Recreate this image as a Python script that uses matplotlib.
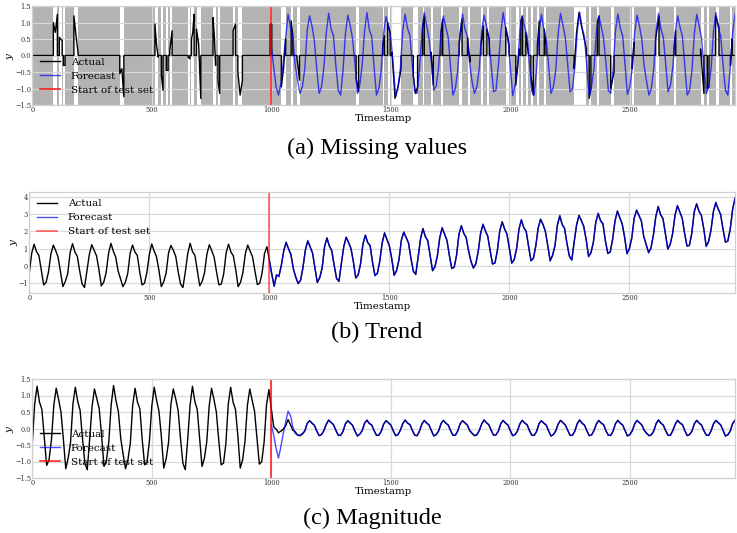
import numpy as np
import matplotlib
matplotlib.use("Agg")
import matplotlib.pyplot as plt

# ---------------------------------------------------------------- data
# samples every 10 timestamps
t_actual = np.arange(0, 2950, 10)
t_forecast = np.arange(1000, 2950, 10)
test_start = 1000

# (b) Trend
actual_b = [
    -0.42, 0.73, 1.25, 0.82, 0.6, -0.25, -1.1, -0.95,
    -0.35, 0.68, 1.2, 0.88, 0.5, -0.35, -1.2, -0.9,
    -0.45, 0.75, 1.28, 0.8, 0.55, -0.3, -1.05, -1.25,
    -0.3, 0.65, 1.22, 0.9, 0.58, -0.2, -1.15, -0.95,
    -0.4, 0.7, 1.3, 0.85, 0.5, -0.3, -0.75, -1.2, -0.95,
    -0.45, 0.72, 1.2, 0.8, 0.6, -0.35, -1.1, -1.0,
    -0.38, 0.66, 1.26, 0.86, 0.52, -0.25, -1.2, -0.92,
    -0.42, 0.74, 1.18, 0.9, 0.55, -0.32, -1.05, -1.25,
    -0.35, 0.7, 1.3, 0.82, 0.6, -0.28, -1.15, -0.9,
    -0.4, 0.68, 1.22, 0.88, 0.5, -0.35, -1.1, -1.05,
    -0.45, 0.75, 1.25, 0.8, 0.58, -0.22, -1.2, -0.95,
    -0.38, 0.7, 1.2, 0.85, 0.52, -0.3, -1.08, -1.0,
    -0.4, 0.72, 1.1, 0.35, -0.45, -1.15, -0.55, -0.6,
    0.05, 0.85, 1.37, 0.97, 0.67, -0.18, -0.63, -1.03, -0.83,
    -0.12, 0.91, 1.43, 1.11, 0.73, -0.12, -0.97, -0.67,
    -0.11, 1.09, 1.62, 1.14, 0.89, 0.04, -0.71, -0.91,
    0.14, 1.09, 1.66, 1.34, 1.02, 0.24, -0.71, -0.51,
    0.1, 1.27, 1.75, 1.35, 1.15, 0.2, -0.55, -0.45,
    0.27, 1.31, 1.91, 1.51, 1.17, 0.4, -0.55, -0.27,
    0.33, 1.49, 1.93, 1.65, 1.3, 0.43, -0.3, -0.5,
    0.51, 1.56, 2.16, 1.68, 1.46, 0.58, -0.29, -0.04,
    0.56, 1.64, 2.18, 1.84, 1.46, 0.61, -0.14, -0.09,
    0.62, 1.82, 2.32, 1.87, 1.65, 0.85, 0.27, -0.13, 0.12,
    0.8, 1.88, 2.38, 2.03, 1.7, 0.88, 0.1, 0.18,
    0.89, 2.01, 2.55, 2.13, 1.84, 0.99, 0.17, 0.34,
    0.97, 2.12, 2.64, 2.21, 1.99, 1.14, 0.29, 0.44,
    1.15, 2.18, 2.7, 2.38, 2.0, 1.15, 0.3, 0.6,
    1.15, 2.35, 2.88, 2.4, 2.15, 1.3, 0.55, 0.35,
    1.4, 2.35, 2.92, 2.6, 2.28, 1.5, 0.55, 0.75,
    1.36, 2.53, 3.01, 2.61, 2.41, 1.46, 0.71, 0.81,
    1.53, 2.57, 3.17, 2.77, 2.43, 1.66, 0.71, 0.99,
    1.6, 2.76, 3.2, 2.92, 2.57, 1.7, 1.22, 0.77, 1.02,
    1.78, 2.83, 3.43, 2.95, 2.73, 1.85, 0.98, 1.23,
    1.84, 2.92, 3.46, 3.12, 2.74, 1.89, 1.14, 1.19,
    1.89, 3.09, 3.59, 3.14, 2.92, 2.12, 1.14, 1.39,
    2.06, 3.14, 3.64, 3.29, 2.96, 2.14, 1.36, 1.44,
    2.12, 3.24, 3.92,
]
forecast_b = [
    0.3, -0.5, -1.2, -0.5, -0.62,
    0.0, 0.9, 1.33, 1.0, 0.62, -0.15, -0.68, -1.0, -0.86,
    -0.08, 0.88, 1.47, 1.08, 0.76, -0.15, -0.93, -0.7,
    -0.14, 1.12, 1.58, 1.17, 0.86, 0.07, -0.75, -0.88,
    0.1, 1.12, 1.62, 1.37, 0.98, 0.27, -0.68, -0.55,
    0.13, 1.24, 1.79, 1.32, 1.18, 0.17, -0.58, -0.42,
    0.24, 1.34, 1.87, 1.54, 1.14, 0.43, -0.52, -0.3,
    0.36, 1.46, 1.97, 1.62, 1.33, 0.4, -0.33, -0.47,
    0.48, 1.59, 2.12, 1.71, 1.43, 0.61, -0.26, -0.07,
    0.59, 1.61, 2.22, 1.81, 1.49, 0.58, -0.17, -0.06,
    0.59, 1.85, 2.28, 1.9, 1.62, 0.88, 0.24, -0.1, 0.09,
    0.83, 1.85, 2.42, 2.0, 1.73, 0.85, 0.13, 0.15,
    0.86, 2.04, 2.51, 2.16, 1.81, 1.02, 0.14, 0.37,
    1.0, 2.09, 2.68, 2.18, 2.02, 1.11, 0.32, 0.41,
    1.12, 2.21, 2.66, 2.41, 1.97, 1.18, 0.27, 0.63,
    1.18, 2.32, 2.92, 2.37, 2.18, 1.27, 0.58, 0.32,
    1.37, 2.38, 2.88, 2.63, 2.25, 1.53, 0.52, 0.78,
    1.39, 2.5, 3.05, 2.58, 2.44, 1.43, 0.74, 0.78,
    1.5, 2.6, 3.13, 2.8, 2.4, 1.69, 0.68, 1.02,
    1.63, 2.73, 3.24, 2.89, 2.6, 1.67, 1.25, 0.74, 1.05,
    1.75, 2.86, 3.39, 2.98, 2.7, 1.88, 0.95, 1.26,
    1.87, 2.89, 3.5, 3.09, 2.77, 1.86, 1.17, 1.16,
    1.86, 3.12, 3.55, 3.17, 2.89, 2.15, 1.11, 1.42,
    2.09, 3.11, 3.68, 3.26, 2.99, 2.11, 1.39, 1.41,
    2.09, 3.27, 3.88,
]

# (c) Magnitude
actual_c = [
    -0.45, 0.75, 1.28, 0.8, 0.58, -0.25, -1.12, -0.95,
    -0.35, 0.7, 1.22, 0.88, 0.5, -0.32, -1.22, -0.9,
    -0.42, 0.74, 1.25, 0.82, 0.55, -0.3, -1.05, -1.25,
    -0.32, 0.66, 1.2, 0.9, 0.6, -0.22, -1.15, -0.98,
    -0.4, 0.72, 1.3, 0.85, 0.52, -0.3, -0.78, -1.22, -0.95,
    -0.45, 0.7, 1.22, 0.8, 0.6, -0.35, -1.1, -1.02,
    -0.38, 0.68, 1.25, 0.86, 0.52, -0.25, -1.2, -0.92,
    -0.42, 0.74, 1.2, 0.9, 0.55, -0.3, -1.05, -1.25,
    -0.35, 0.7, 1.28, 0.82, 0.58, -0.28, -1.15, -0.9,
    -0.4, 0.68, 1.22, 0.88, 0.5, -0.35, -1.1, -1.05,
    -0.45, 0.75, 1.25, 0.8, 0.58, -0.22, -1.2, -0.95,
    -0.38, 0.7, 1.2, 0.85, 0.52, -0.3, -1.08, -1.0,
    -0.4, 0.72, 1.18, 0.6, 0.05, -0.02, -0.13, -0.08,
    -0.02, 0.08, 0.27, 0.12, -0.05, -0.1, -0.2, -0.22, -0.17,
    -0.08, 0.15, 0.24, 0.16, 0.1, -0.07, -0.22, -0.18,
    -0.06, 0.13, 0.26, 0.18, 0.12, -0.05, -0.2, -0.21,
    -0.09, 0.14, 0.23, 0.17, 0.09, -0.08, -0.23, -0.17,
    -0.07, 0.16, 0.25, 0.15, 0.11, -0.06, -0.21, -0.2,
    -0.08, 0.13, 0.24, 0.18, 0.1, -0.07, -0.22, -0.18,
    -0.05, 0.15, 0.26, 0.16, 0.12, -0.05, -0.2, -0.22,
    -0.08, 0.14, 0.24, 0.17, 0.1, -0.07, -0.23, -0.18,
    -0.07, 0.15, 0.25, 0.16, 0.11, -0.06, -0.21, -0.2,
    -0.08, 0.14, 0.24, 0.17, 0.1, -0.06, -0.15, -0.22, -0.19,
    -0.06, 0.13, 0.26, 0.18, 0.11, -0.05, -0.21, -0.19,
    -0.08, 0.15, 0.24, 0.16, 0.1, -0.07, -0.22, -0.18,
    -0.07, 0.14, 0.25, 0.17, 0.12, -0.06, -0.2, -0.21,
    -0.09, 0.15, 0.23, 0.16, 0.1, -0.07, -0.23, -0.18,
    -0.07, 0.13, 0.25, 0.18, 0.11, -0.05, -0.21, -0.2,
    -0.08, 0.15, 0.26, 0.16, 0.1, -0.06, -0.22, -0.19,
    -0.06, 0.14, 0.24, 0.17, 0.12, -0.07, -0.2, -0.21,
    -0.08, 0.15, 0.25, 0.16, 0.1, -0.06, -0.23, -0.18,
    -0.07, 0.14, 0.24, 0.18, 0.11, -0.05, -0.14, -0.22, -0.19,
    -0.08, 0.15, 0.26, 0.16, 0.1, -0.07, -0.21, -0.2,
    -0.06, 0.13, 0.24, 0.17, 0.12, -0.06, -0.22, -0.18,
    -0.08, 0.15, 0.25, 0.16, 0.1, -0.07, -0.2, -0.21,
    -0.07, 0.14, 0.24, 0.18, 0.11, -0.05, -0.23, -0.19,
    -0.08, 0.15, 0.25,
]
forecast_c = [
    0.1, -0.2, -0.6, -0.9, -0.55,
    -0.15, 0.2, 0.52, 0.4, 0.05, -0.15, -0.2, -0.2, -0.15,
    -0.07, 0.16, 0.23, 0.17, 0.09, -0.08, -0.21, -0.19,
    -0.07, 0.12, 0.25, 0.19, 0.11, -0.06, -0.21, -0.2,
    -0.08, 0.15, 0.24, 0.16, 0.1, -0.07, -0.22, -0.18,
    -0.06, 0.15, 0.26, 0.16, 0.1, -0.07, -0.2, -0.21,
    -0.09, 0.14, 0.23, 0.17, 0.11, -0.06, -0.21, -0.19,
    -0.06, 0.14, 0.25, 0.17, 0.11, -0.06, -0.21, -0.21,
    -0.07, 0.13, 0.25, 0.16, 0.11, -0.06, -0.22, -0.19,
    -0.08, 0.14, 0.24, 0.17, 0.1, -0.07, -0.2, -0.21,
    -0.07, 0.15, 0.23, 0.18, 0.11, -0.07, -0.14, -0.21, -0.2,
    -0.07, 0.14, 0.25, 0.17, 0.12, -0.06, -0.2, -0.2,
    -0.07, 0.14, 0.25, 0.17, 0.11, -0.06, -0.21, -0.19,
    -0.08, 0.15, 0.24, 0.16, 0.11, -0.07, -0.21, -0.2,
    -0.08, 0.14, 0.24, 0.17, 0.11, -0.06, -0.22, -0.19,
    -0.08, 0.14, 0.24, 0.17, 0.1, -0.06, -0.2, -0.21,
    -0.07, 0.14, 0.25, 0.17, 0.11, -0.07, -0.21, -0.2,
    -0.07, 0.13, 0.25, 0.16, 0.11, -0.06, -0.21, -0.2,
    -0.07, 0.14, 0.24, 0.17, 0.11, -0.07, -0.22, -0.19,
    -0.08, 0.13, 0.25, 0.17, 0.1, -0.06, -0.15, -0.21, -0.2,
    -0.07, 0.14, 0.25, 0.17, 0.11, -0.06, -0.2, -0.21,
    -0.07, 0.14, 0.25, 0.16, 0.11, -0.07, -0.21, -0.19,
    -0.07, 0.14, 0.24, 0.17, 0.11, -0.06, -0.21, -0.2,
    -0.08, 0.15, 0.25, 0.17, 0.1, -0.06, -0.22, -0.2,
    -0.07, 0.14, 0.24,
]

# (a) Missing values
forecast_a = [
    0.25, -0.35, -0.95, -1.2, -0.85,
    -0.2, 0.55, 1.25, 0.85, 0.55, -0.3, -0.75, -1.15, -0.95,
    -0.4, 0.75, 1.2, 0.9, 0.45, -0.4, -1.15, -0.95,
    -0.35, 0.7, 1.28, 0.8, 0.6, -0.3, -1.05, -1.2,
    -0.45, 0.65, 1.22, 0.92, 0.5, -0.25, -1.15, -0.9,
    -0.3, 0.72, 1.3, 0.78, 0.58, -0.35, -1.2, -1.0,
    -0.42, 0.68, 1.18, 0.88, 0.52, -0.28, -1.25, -0.95,
    -0.38, 0.75, 1.25, 0.82, 0.6, -0.3, -1.1, -1.15,
    -0.4, 0.66, 1.3, 0.9, 0.5, -0.22, -1.05, -0.92,
    -0.35, 0.72, 1.2, 0.85, 0.55, -0.35, -1.2, -1.0,
    -0.45, 0.7, 1.26, 0.8, 0.58, -0.25, -0.8, -1.15, -0.95,
    -0.4, 0.74, 1.22, 0.9, 0.5, -0.3, -1.1, -1.05,
    -0.3, 0.68, 1.3, 0.84, 0.56, -0.32, -1.22, -0.9,
    -0.42, 0.75, 1.18, 0.86, 0.6, -0.25, -1.08, -1.2,
    -0.38, 0.7, 1.25, 0.8, 0.5, -0.3, -1.15, -0.95,
    -0.45, 0.66, 1.28, 0.92, 0.55, -0.28, -1.1, -1.0,
    -0.35, 0.72, 1.32, 0.85, 0.58, -0.35, -1.25, -0.92,
    -0.4, 0.7, 1.2, 0.88, 0.52, -0.22, -1.05, -1.15,
    -0.42, 0.75, 1.26, 0.82, 0.6, -0.3, -1.18, -0.95,
    -0.38, 0.68, 1.22, 0.9, 0.5, -0.32, -0.78, -1.2, -1.0,
    -0.4, 0.74, 1.28, 0.8, 0.55, -0.25, -1.1, -0.9,
    -0.35, 0.7, 1.2, 0.86, 0.58, -0.3, -1.2, -1.05,
    -0.45, 0.66, 1.25, 0.9, 0.52, -0.35, -1.15, -0.95,
    -0.4, 0.72, 1.3, 0.84, 0.6, -0.28, -1.05, -1.2,
    -0.38, 0.7, 1.25,
]
# observed (non-missing) windows: start, end timestamps and the values seen inside
obs_start = [88, 113, 130, 174, 366, 513, 540, 561, 575, 652, 666, 687, 756, 777,
             840, 860, 995, 1042, 1083, 1107, 1355, 1466, 1487, 1505, 1594, 1633,
             1668, 1710, 1786, 1821, 1877, 1902, 1981, 2023, 2044, 2065, 2086, 2113,
             2142, 2267, 2330, 2364, 2420, 2510, 2608, 2685, 2796, 2824, 2859, 2921]
obs_end = [105, 125, 137, 192, 383, 527, 547, 568, 585, 659, 677, 705, 767, 784,
           850, 879, 1002, 1060, 1090, 1118, 1365, 1473, 1497, 1543, 1612, 1640,
           1678, 1717, 1798, 1831, 1887, 1912, 1995, 2037, 2051, 2076, 2096, 2121,
           2149, 2318, 2337, 2371, 2434, 2517, 2622, 2692, 2810, 2831, 2873, 2928]
obs_vals = [
    [1.0, 0.7, 1.25], [0.55, 0.45], [-0.3], [1.2, 0.6, 0.05], [-0.55, -0.4, -1.25],
    [0.95, 0.3, -0.05], [-0.6, -1.05], [-0.45], [0.15, 0.75], [-0.05, -0.1],
    [0.5, 0.7, 1.25], [0.8, 0.35, -1.3], [1.15, 0.6, -0.3], [-0.75, -1.15],
    [0.75, 0.95], [-0.5, -1.2, -0.75], [0.95],
    [-0.95, -0.4, 0.5], [1.05, 0.6], [-0.05, -0.75], [-0.7, -1.1], [0.3, 0.6],
    [1.0, 0.7], [0.1, -1.3, -0.95, -0.4], [-0.6, -1.15, -0.95], [0.85, 1.2],
    [0.1, -0.9], [0.7, 1.1], [0.4, 1.1], [0.55, -0.2], [0.3, 0.9], [0.8, 0.5],
    [0.85, 0.3], [-0.9, 0.2], [1.05, 1.2], [0.7, 0.0], [-0.6, -1.2], [0.3, 1.05],
    [0.8, 0.3], [-0.4, 0.7, 1.3, 0.9, 0.55, 0.2], [-1.3, -1.0], [1.0, 1.2],
    [-1.0, -0.5], [-0.4, 0.4], [0.5, 1.2], [0.2, 0.75], [0.2, -1.15],
    [-1.0, -0.95], [1.2, 0.85], [-0.3, 0.5],
]

# ---------------------------------------------------------------- style
plt.rcParams['font.family'] = 'DejaVu Serif'
plt.rcParams['mathtext.fontset'] = 'dejavuserif'
plt.rcParams['axes.axisbelow'] = 'line'

fig = plt.figure(figsize=(7.37, 5.33), dpi=100)
W, H = 737, 533


def make_axes(left, top, right, bottom):
    return fig.add_axes([left / W, 1 - bottom / H, (right - left) / W, (bottom - top) / H])


def style(ax, ylim, yticks):
    ax.set_xlim(0, 2940)
    ax.set_ylim(*ylim)
    ax.set_yticks(yticks)
    ax.set_xticks([0, 500, 1000, 1500, 2000, 2500])
    ax.grid(True, color='#d9d9d9', linewidth=0.9)
    for s in ax.spines.values():
        s.set_color('#d0d0d0')
        s.set_linewidth(0.9)
    ax.tick_params(length=0, pad=1, labelsize=4.8, colors='#333333')
    ax.set_xlabel('Timestamp', fontsize=7.3, labelpad=0)
    ax.set_ylabel('$y$', fontsize=7.5, labelpad=-1)


def add_legend(ax, loc, anchor):
    ax.legend(loc=loc, bbox_to_anchor=anchor, frameon=False, fontsize=7.5,
              handlelength=2.0, handletextpad=1.0, labelspacing=0.45,
              borderaxespad=0.3)


# (a) missing values
ax_a = make_axes(32.3, 6, 735, 105)
ax_a.set_facecolor('#b3b3b3')
line_x, line_y = [0], [0.0]
for s, e, v in zip(obs_start, obs_end, obs_vals):
    ax_a.axvspan(s, e, color='white', lw=0)
    xs = np.linspace(s, e, max(len(v), 2))
    vs = v if len(v) > 1 else v * 2
    line_x += [s] + list(xs) + [e]
    line_y += [0.0] + list(vs) + [0.0]
line_x.append(2940)
line_y.append(0.0)
ax_a.plot(line_x, line_y, color='black', lw=1.0, label='Actual')
ax_a.plot(t_forecast, forecast_a, color='blue', lw=1.0, alpha=0.7, label='Forecast')
ax_a.axvline(test_start, color='red', lw=1.2, alpha=0.85, label='Start of test set')
style(ax_a, (-1.5, 1.5), [-1.5, -1.0, -0.5, 0.0, 0.5, 1.0, 1.5])
add_legend(ax_a, 'lower left', (0.0, 0.032))

# (b) trend
ax_b = make_axes(29.3, 191.7, 735, 292.7)
ax_b.plot(t_actual, actual_b, color='black', lw=1.0, label='Actual')
ax_b.plot(t_forecast, forecast_b, color='blue', lw=1.0, alpha=0.7, label='Forecast')
ax_b.axvline(test_start, color='red', lw=1.2, alpha=0.6, label='Start of test set')
style(ax_b, (-1.55, 4.28), [-1, 0, 1, 2, 3, 4])
add_legend(ax_b, 'upper left', (0.0, 1.0))

# (c) magnitude
ax_c = make_axes(32.3, 379, 735, 478)
ax_c.plot(t_actual, actual_c, color='black', lw=1.0, label='Actual')
ax_c.plot(t_forecast, forecast_c, color='blue', lw=1.0, alpha=0.7, label='Forecast')
ax_c.axvline(test_start, color='red', lw=1.2, alpha=0.85, label='Start of test set')
style(ax_c, (-1.5, 1.5), [-1.5, -1.0, -0.5, 0.0, 0.5, 1.0, 1.5])
add_legend(ax_c, 'lower left', (0.0, 0.042))

# sub-captions
cap = dict(ha='center', va='center', fontsize=17.5, family='Liberation Serif')
fig.text(377 / W, 1 - 148 / H, '(a) Missing values', **cap)
fig.text(377 / W, 1 - 332 / H, '(b) Trend', **cap)
fig.text(372 / W, 1 - 518 / H, '(c) Magnitude', **cap)

fig.savefig('out.png', dpi=100)
